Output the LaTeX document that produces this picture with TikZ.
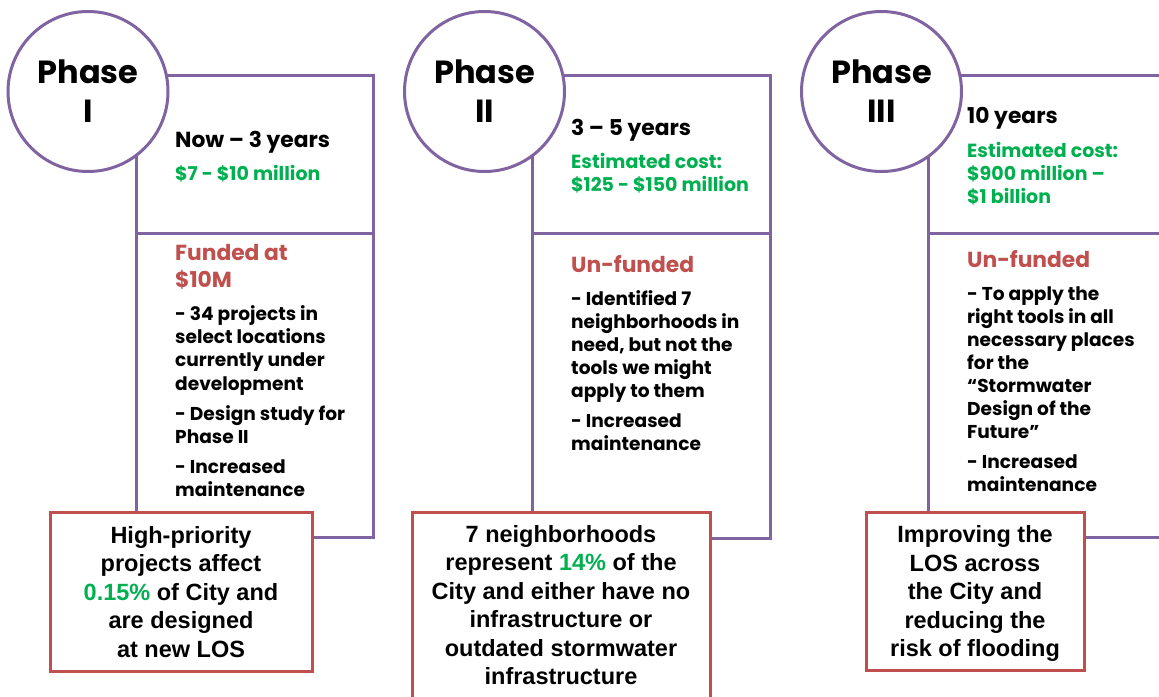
\documentclass[tikz,border=0pt]{standalone}
\usepackage{fontspec}
\newfontfamily\gothic{Poppins}
\newfontfamily\arialf{Liberation Sans}
\definecolor{pur}{HTML}{8064A2}
\definecolor{redb}{HTML}{C0504D}
\definecolor{grn}{HTML}{00B050}
\newcommand\tline[5]{\node[#4,anchor=base west,inner sep=0pt] (#1) at (#2,#3) {#5};}
\newcommand\ctline[5]{\node[#4,anchor=base,inner sep=0pt] (#1) at (#2,#3) {#5};}
\tikzset{
  pbox/.style={draw=pur,line width=3pt,rectangle,inner sep=0pt},
  phase/.style={draw=pur,fill=white,line width=3pt,circle,minimum size=160pt,inner sep=0pt,align=center,
    font=\gothic\bfseries\fontsize{32}{39}\selectfont},
  rbox/.style={draw=redb,fill=white,line width=3pt,rectangle,inner sep=0pt},
  head/.style={font=\gothic\bfseries\fontsize{21.8}{21.8}\selectfont,text=black},
  cost/.style={font=\gothic\bfseries\fontsize{19}{19}\selectfont,text=grn},
  fund/.style={font=\gothic\bfseries\fontsize{21.8}{21.8}\selectfont,text=redb},
  body/.style={font=\gothic\bfseries\fontsize{18.6}{18.6}\selectfont,text=black},
  rtext/.style={font=\arialf\bfseries\fontsize{23.5}{23.5}\selectfont,text=black},
}
\begin{document}
\begin{tikzpicture}[x=1pt,y=-1pt]
\clip (0,0) rectangle (1159,696);
\fill[white] (0,0) rectangle (1159,696);
% ---------- column 1
\node[pbox,minimum width=237pt,minimum height=304pt] (low1) at (254.5,385) {};
\node[pbox,fill=white,minimum width=237pt,minimum height=158pt] (up1) at (254.5,154) {};
\node[phase] (ph1) at (88,91.5) {Phase\\I};
\node[rbox,minimum width=262pt,minimum height=159pt] (r1) at (181,591.5) {};
\tline{a1}{175}{147}{head}{Now – 3 years}
\tline{a2}{175}{180}{cost}{\$7 - \$10 million}
\tline{a3}{175}{260}{fund}{Funded at}
\tline{a4}{175}{287}{fund}{\$10M}
\tline{a5}{175}{320}{body}{- 34 projects in}
\tline{a6}{175}{343.3}{body}{select locations}
\tline{a7}{175}{366.6}{body}{currently under}
\tline{a8}{175}{390}{body}{development}
\tline{a9}{175}{420}{body}{- Design study for}
\tline{a10}{175}{443}{body}{Phase II}
\tline{a11}{175}{473}{body}{- Increased}
\tline{a12}{175}{496}{body}{maintenance}
\ctline{ra1}{181}{543}{rtext}{High-priority}
\ctline{ra2}{181}{571.5}{rtext}{projects affect}
\ctline{ra3}{181}{600}{rtext}{\textcolor{grn}{0.15\%} of City and}
\ctline{ra4}{181}{628.5}{rtext}{are designed}
\ctline{ra5}{181}{657}{rtext}{at new LOS}
% ---------- column 2
\node[pbox,minimum width=238pt,minimum height=305pt] (low2) at (651,385.5) {};
\node[pbox,fill=white,minimum width=238pt,minimum height=158pt] (up2) at (651,154) {};
\node[phase] (ph2) at (484.5,91.5) {Phase\\II};
\node[rbox,minimum width=298pt,minimum height=208pt] (r2) at (561,616) {};
\tline{b1}{571}{135}{head}{3 – 5 years}
\tline{b2}{571}{168}{cost}{Estimated cost:}
\tline{b3}{571}{191}{cost}{\$125 - \$150 million}
\tline{b4}{571}{272}{fund}{Un-funded}
\tline{b5}{571}{305}{body}{- Identified 7}
\tline{b6}{571}{328}{body}{neighborhoods in}
\tline{b7}{571}{351}{body}{need, but not the}
\tline{b8}{571}{374}{body}{tools we might}
\tline{b9}{571}{397}{body}{apply to them}
\tline{b10}{571}{427}{body}{- Increased}
\tline{b11}{571}{450}{body}{maintenance}
\ctline{rb1}{561}{542}{rtext}{7 neighborhoods}
\ctline{rb2}{561}{570.5}{rtext}{represent \textcolor{grn}{14\%} of the}
\ctline{rb3}{561}{599}{rtext}{City and either have no}
\ctline{rb4}{561}{627.5}{rtext}{infrastructure or}
\ctline{rb5}{561}{656}{rtext}{outdated stormwater}
\ctline{rb6}{561}{684.5}{rtext}{infrastructure}
% ---------- column 3
\node[pbox,minimum width=272pt,minimum height=304pt] (low3) at (1064,385) {};
\node[pbox,fill=white,minimum width=272pt,minimum height=158pt] (up3) at (1064,154) {};
\node[phase] (ph3) at (881.5,91.5) {Phase\\III};
\node[rbox,minimum width=218pt,minimum height=158pt] (r3) at (975,591) {};
\tline{c1}{967}{123}{head}{10 years}
\tline{c2}{967}{157}{cost}{Estimated cost:}
\tline{c3}{967}{180}{cost}{\$900 million –}
\tline{c4}{967}{203}{cost}{\$1 billion}
\tline{c5}{967}{267}{fund}{Un-funded}
\tline{c6}{967}{300}{body}{- To apply the}
\tline{c7}{967}{323}{body}{right tools in all}
\tline{c8}{967}{346}{body}{necessary places}
\tline{c9}{967}{369}{body}{for the}
\tline{c10}{967}{392}{body}{“Stormwater}
\tline{c11}{967}{415}{body}{Design of the}
\tline{c12}{967}{438}{body}{Future”}
\tline{c13}{967}{468}{body}{- Increased}
\tline{c14}{967}{491}{body}{maintenance}
\ctline{rc1}{975}{542}{rtext}{Improving the}
\ctline{rc2}{975}{571}{rtext}{LOS across}
\ctline{rc3}{975}{599.5}{rtext}{the City and}
\ctline{rc4}{975}{628}{rtext}{reducing the}
\ctline{rc5}{975}{656.5}{rtext}{risk of flooding}
\end{tikzpicture}
\end{document}
